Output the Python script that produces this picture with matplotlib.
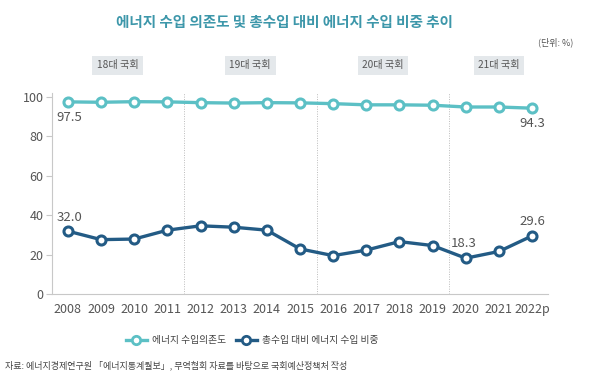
import matplotlib
matplotlib.use("Agg")
import matplotlib.pyplot as plt
from matplotlib.lines import Line2D

plt.rcParams["font.family"] = ["Noto Sans CJK KR", "DejaVu Sans"]

years = ["2008", "2009", "2010", "2011", "2012", "2013", "2014", "2015",
         "2016", "2017", "2018", "2019", "2020", "2021", "2022p"]
dependence = [97.5, 97.3, 97.6, 97.5, 97.1, 96.9, 97.1, 97.0,
              96.6, 96.0, 96.0, 95.8, 94.9, 94.9, 94.3]
import_share = [32.0, 27.7, 28.0, 32.5, 34.7, 34.0, 32.5, 23.0,
                19.6, 22.4, 26.7, 24.7, 18.3, 21.7, 29.6]
terms = ["18대 국회", "19대 국회", "20대 국회", "21대 국회"]
term_start = [0, 4, 8, 12]
term_end = [3, 7, 11, 14]

TEAL = "#5cc0c5"
NAVY = "#235b85"
GRID = "#c8c8c8"
TXT = "#555555"

fig = plt.figure(figsize=(6, 3.78), dpi=100)
ax = fig.add_axes([0.0867, 0.2214, 0.8266, 0.5326])

x = list(range(len(years)))
ax.plot(x, dependence, "-o", color=TEAL, lw=2.4, ms=6.5, mfc="white", mew=2.2, zorder=3)
ax.plot(x, import_share, "-o", color=NAVY, lw=2.4, ms=6.5, mfc="white", mew=2.2, zorder=3)

for s in term_start[1:]:
    ax.axvline(s - 0.5, color="#bbbbbb", ls=(0, (1, 1.5)), lw=0.7, zorder=1)

ax.set_xlim(-0.48, len(years) - 1 + 0.48)
ax.set_ylim(0, 102)
ax.set_yticks([0, 20, 40, 60, 80, 100])
ax.set_xticks(x)
ax.set_xticklabels(years)
ax.tick_params(axis="y", length=4, color=GRID, labelsize=9, labelcolor=TXT, pad=2)
ax.tick_params(axis="x", length=0, labelsize=9, labelcolor=TXT, pad=6)
for side in ["top", "right"]:
    ax.spines[side].set_visible(False)
ax.spines["left"].set_color(GRID)
ax.spines["bottom"].set_color(GRID)

# value labels
lab = dict(fontsize=9.5, color=TXT, ha="center")
ax.text(0.05, dependence[0] - 4.5, f"{dependence[0]:.1f}", va="top", **lab)
ax.text(14, dependence[-1] - 4.5, f"{dependence[-1]:.1f}", va="top", **lab)
ax.text(0.05, import_share[0] + 3.5, f"{import_share[0]:.1f}", va="bottom", **lab)
ax.text(11.95, import_share[12] + 4.0, f"{import_share[12]:.1f}", va="bottom", **lab)
ax.text(14, import_share[-1] + 4.0, f"{import_share[-1]:.1f}", va="bottom", **lab)

# assembly term labels
for name, a, b in zip(terms, term_start, term_end):
    ax.text((a + b) / 2, 116, name, ha="center", va="center", fontsize=7.3,
            color="#555555",
            bbox=dict(boxstyle="square,pad=0.45", fc="#e4e8eb", ec="none"))

fig.text(0.474, 0.942, "에너지 수입 의존도 및 총수입 대비 에너지 수입 비중 추이",
         ha="center", va="center", fontsize=10.5, fontweight="bold", color="#3d97aa")
fig.text(0.955, 0.888, "(단위: %)", ha="right", va="center", fontsize=6.5, color=TXT)

handles = [
    Line2D([], [], color=TEAL, lw=2.4, marker="o", ms=6, mfc="white", mew=2),
    Line2D([], [], color=NAVY, lw=2.4, marker="o", ms=6, mfc="white", mew=2),
]
fig.legend(handles, ["에너지 수입의존도", "총수입 대비 에너지 수입 비중"],
           loc="center", bbox_to_anchor=(0.42, 0.1), ncol=2, frameon=False,
           fontsize=7, handlelength=2.2, columnspacing=1.0, handletextpad=0.5,
           labelcolor="#444444")

fig.text(0.008, 0.033, "자료: 에너지경제연구원 「에너지통계월보」, 무역협회 자료를 바탕으로 국회예산정책처 작성",
         ha="left", va="center", fontsize=6.5, color="#444444")

fig.savefig("out.png", dpi=100)
